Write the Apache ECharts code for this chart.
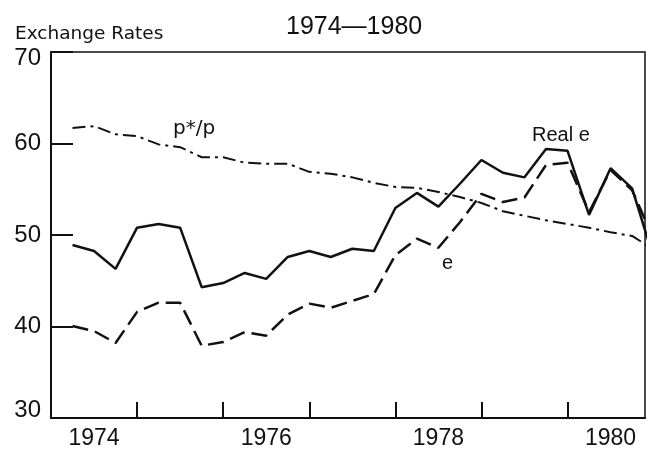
<!DOCTYPE html>
<html>
<head>
<meta charset="utf-8">
<script src="https://cdn.jsdelivr.net/npm/echarts@6/dist/echarts.min.js"></script>
<style>
  html, body { margin: 0; padding: 0; background: #fff; }
  #main { width: 649px; height: 452px; }
</style>
</head>
<body>
<div id="main"></div>
<script>
// quarterly observations (plotted at the end of each quarter)
const quarters = [
  1974.25, 1974.5, 1974.75, 1975.0, 1975.25, 1975.5, 1975.75,
  1976.0, 1976.25, 1976.5, 1976.75, 1977.0, 1977.25, 1977.5,
  1977.75, 1978.0, 1978.25, 1978.5, 1978.75, 1979.0, 1979.25,
  1979.5, 1979.75, 1980.0, 1980.25, 1980.5, 1980.75, 1981.0
]
const realE = [
  48.9, 48.25, 46.3, 50.8, 51.2, 50.8, 44.3,
  44.75, 45.85, 45.2, 47.6, 48.25, 47.6, 48.5,
  48.25, 52.95, 54.6, 53.1, 55.6, 58.2, 56.8,
  56.3, 59.4, 59.2, 52.2, 57.3, 55.1, 47.5
]
const nominalE = [
  40.05, 39.5, 38.2, 41.6, 42.6, 42.6, 37.9,
  38.3, 39.4, 39.0, 41.3, 42.5, 42.05, 42.8,
  43.55, 47.8, 49.6, 48.6, 51.4, 54.5, 53.6,
  54.1, 57.65, 57.9, 52.5, 57.1, 54.9, 49.6
]
const priceRatio = [
  61.7, 61.9, 61.0, 60.8, 59.9, 59.6, 58.5,
  58.5, 57.9, 57.8, 57.8, 56.9, 56.7, 56.3,
  55.7, 55.25, 55.15, 54.7, 54.15, 53.5, 52.6,
  52.1, 51.6, 51.2, 50.8, 50.3, 49.9, 48.4
]
const yearLabels = [1974, 1976, 1978, 1980]
const yearTicks = [1975, 1976, 1977, 1978, 1979, 1980]

const ink = '#111'
const chart = echarts.init(document.getElementById('main'), null, { renderer: 'canvas' })

const pairs = arr => quarters.map((q, i) => [q, arr[i]])

const option = {
  animation: false,
  backgroundColor: '#fff',
  title: [{
    text: 'Exchange Rates',
    left: 10, top: 20,
    textStyle: { fontFamily: 'DejaVu Sans', fontSize: 18.5, fontWeight: 'normal', color: ink }
  }, {
    text: '1974\u20141980',
    left: 281, top: 10,
    textStyle: { fontFamily: 'Liberation Sans', fontSize: 25, fontWeight: 'normal', color: ink }
  }],
  grid: {
    left: 51, right: 4, top: 52, bottom: 34,
    show: true, borderColor: ink, borderWidth: 1.5
  },
  xAxis: {
    type: 'value',
    min: 1974, max: 1980.9,
    interval: 1,
    splitLine: { show: false },
    axisLine: { lineStyle: { color: ink, width: 2 } },
    axisTick: {
      inside: true, length: 16,
      customValues: yearTicks,
      lineStyle: { color: ink, width: 2 }
    },
    axisLabel: {
      customValues: yearLabels.map(y => y + 0.5),
      formatter: v => String(Math.floor(v)),
      margin: 9,
      fontFamily: 'Liberation Sans', fontSize: 23, color: ink
    }
  },
  yAxis: {
    type: 'value',
    min: 30, max: 70, interval: 10,
    splitLine: { show: false },
    axisLine: { show: true, lineStyle: { color: ink, width: 2 } },
    axisTick: { inside: true, length: 22, lineStyle: { color: ink, width: 2 } },
    axisLabel: {
      margin: 10,
      fontFamily: 'Liberation Sans', fontSize: 24, color: ink,
      formatter: v => v === 70 ? '{hi|70}' : v === 30 ? '{lo|30}' : String(v),
      rich: {
        hi: { fontFamily: 'Liberation Sans', fontSize: 24, color: ink, padding: [12, 0, 0, 0] },
        lo: { fontFamily: 'Liberation Sans', fontSize: 24, color: ink, padding: [0, 0, 16, 0] }
      }
    }
  },
  series: [{
    name: 'Real e',
    type: 'line',
    data: pairs(realE),
    showSymbol: false,
    lineStyle: { color: ink, width: 2.5 }
  }, {
    name: 'e',
    type: 'line',
    data: pairs(nominalE),
    showSymbol: false,
    lineStyle: { color: ink, width: 2.5, type: [16, 7] }
  }, {
    name: 'p*/p',
    type: 'line',
    data: pairs(priceRatio),
    showSymbol: false,
    lineStyle: { color: ink, width: 2, type: [13, 5, 3, 5] }
  }],
  graphic: [
    { type: 'text', left: 173, top: 119, style: { text: 'p*/p', font: '20px DejaVu Sans', fill: ink } },
    { type: 'text', left: 532, top: 125, style: { text: 'Real e', font: '20px Liberation Sans', fill: ink } },
    { type: 'text', left: 442, top: 253, style: { text: 'e', font: '20px Liberation Sans', fill: ink } }
  ]
}

chart.setOption(option)
</script>
</body>
</html>
